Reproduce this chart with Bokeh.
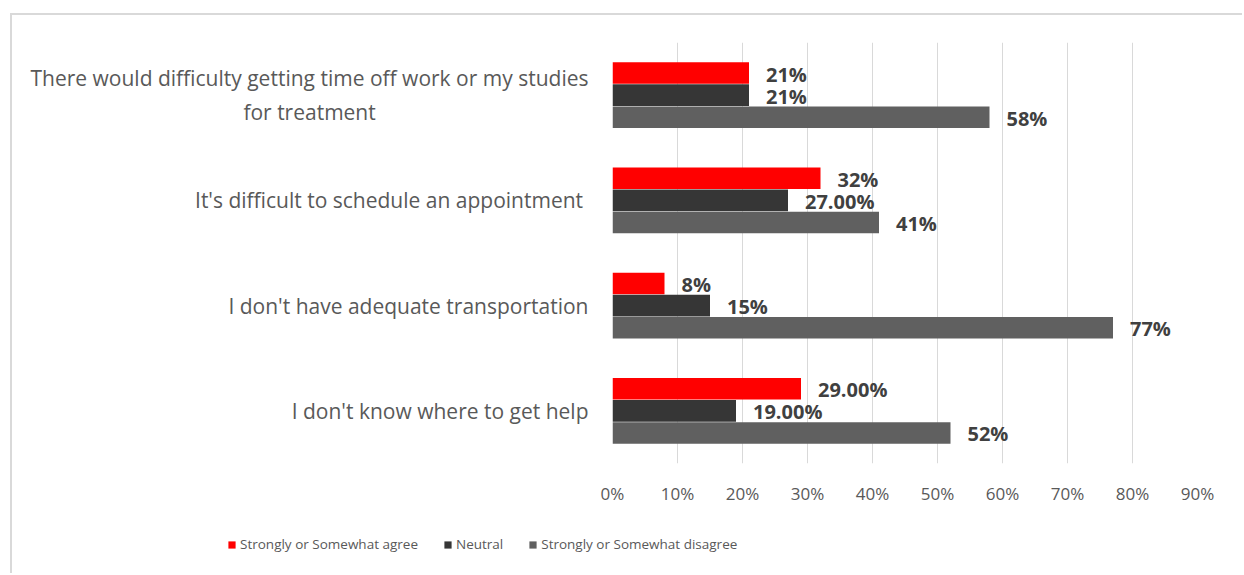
from bokeh.plotting import figure
from bokeh.models import (ColumnDataSource, LabelSet, Legend, LegendItem,
                          NumeralTickFormatter, FixedTicker, Range1d)
from bokeh.transform import dodge
from bokeh.core.properties import value
from bokeh.embed import file_html
from bokeh.resources import INLINE

NBSP = "\u00a0"
categories = [
    "I don't know where to get help",
    "I don't have adequate transportation",
    "It's difficult to schedule an appointment ",
    "There would difficulty getting time off work or my studies\nfor treatment" + NBSP * 39,
]
agree = [0.29, 0.08, 0.32, 0.21]
neutral = [0.19, 0.15, 0.27, 0.21]
disagree = [0.52, 0.77, 0.41, 0.58]
agree_labels = ["29.00%", "8%", "32%", "21%"]
neutral_labels = ["19.00%", "15%", "27.00%", "21%"]
disagree_labels = ["52%", "77%", "41%", "58%"]
series_names = ["Strongly or Somewhat agree", "Neutral", "Strongly or Somewhat disagree"]
colors = ["#FF0000", "#363636", "#606060"]
x_ticks = [0, 0.1, 0.2, 0.3, 0.4, 0.5, 0.6, 0.7, 0.8, 0.9]

FONT = "Open Sans"
W = 1232
H1, H2 = 505, 55

p = figure(width=W, height=H1, y_range=categories, x_range=Range1d(0, 0.9),
           output_backend="svg", toolbar_location=None,
           min_border_left=600, min_border_right=47,
           min_border_top=27, min_border_bottom=57)
p.outline_line_color = None
p.background_fill_color = "white"
p.border_fill_color = "white"
p.styles = {"margin-left": "10px", "margin-top": "13px",
            "border-left": "2px solid #d9d9d9", "border-top": "2px solid #d9d9d9"}

src = ColumnDataSource(dict(cat=categories, agree=agree, neutral=neutral, disagree=disagree,
                            agree_l=agree_labels, neutral_l=neutral_labels,
                            disagree_l=disagree_labels))

offsets = [0.21, 0.0, -0.21]
fields = ["agree", "neutral", "disagree"]
label_fields = ["agree_l", "neutral_l", "disagree_l"]
for f, lf, off, c in zip(fields, label_fields, offsets, colors):
    p.hbar(y=dodge("cat", off, range=p.y_range), left=0, right=f, height=0.205,
           source=src, fill_color=c, line_color=None)
    lab = LabelSet(x=f, y=dodge("cat", off, range=p.y_range), text=lf, source=src,
                   x_offset=17, y_offset=-1, text_align="left", text_baseline="middle",
                   text_font=value(FONT), text_font_size="20px", text_font_style="bold",
                   text_color="#404040")
    p.add_layout(lab)

# axes
p.xaxis.ticker = FixedTicker(ticks=x_ticks)
p.xaxis.formatter = NumeralTickFormatter(format="0%")
p.xaxis.axis_line_color = None
p.xaxis.major_tick_line_color = None
p.xaxis.minor_tick_line_color = None
p.xaxis.major_tick_out = 0
p.xaxis.major_tick_in = 0
p.xaxis.major_label_standoff = 18
p.xaxis.major_label_text_font = FONT
p.xaxis.major_label_text_font_size = "17px"
p.xaxis.major_label_text_color = "#595959"

p.yaxis.axis_line_color = None
p.yaxis.major_tick_line_color = None
p.yaxis.minor_tick_line_color = None
p.yaxis.major_tick_out = 0
p.yaxis.major_tick_in = 0
p.yaxis.major_label_standoff = 24
p.yaxis.major_label_text_font = FONT
p.yaxis.major_label_text_font_size = "21px"
p.yaxis.major_label_text_color = "#595959"

p.ygrid.grid_line_color = None
p.xgrid.grid_line_color = "#d9d9d9"
p.xgrid.grid_line_width = 1
p.xgrid.ticker = FixedTicker(ticks=x_ticks)

# legend strip: a separate root figure whose frame covers its whole canvas
q = figure(width=W, height=H2, x_range=Range1d(0, 1), y_range=Range1d(0, 1),
           output_backend="svg", toolbar_location=None,
           x_axis_location=None, y_axis_location=None,
           min_border=0)
q.outline_line_color = None
q.grid.grid_line_color = None
q.styles = {"margin-left": "10px", "border-left": "2px solid #d9d9d9"}
nan = float("nan")
leg_renderers = []
for c in colors:
    leg_renderers.append(q.hbar(y=[nan], right=[nan], height=0.1, fill_color=c, line_color=None))

legend = Legend(items=[LegendItem(label=n, renderers=[r]) for n, r in zip(series_names, leg_renderers)],
                orientation="horizontal", location=(215, 20),
                glyph_width=9, glyph_height=9, label_standoff=4, spacing=25,
                padding=0, margin=0, border_line_color=None, background_fill_alpha=0,
                label_text_font=FONT, label_text_font_size="13.5px",
                label_text_color="#595959")
q.add_layout(legend)

open("out.html", "w").write(file_html([p, q], INLINE))
